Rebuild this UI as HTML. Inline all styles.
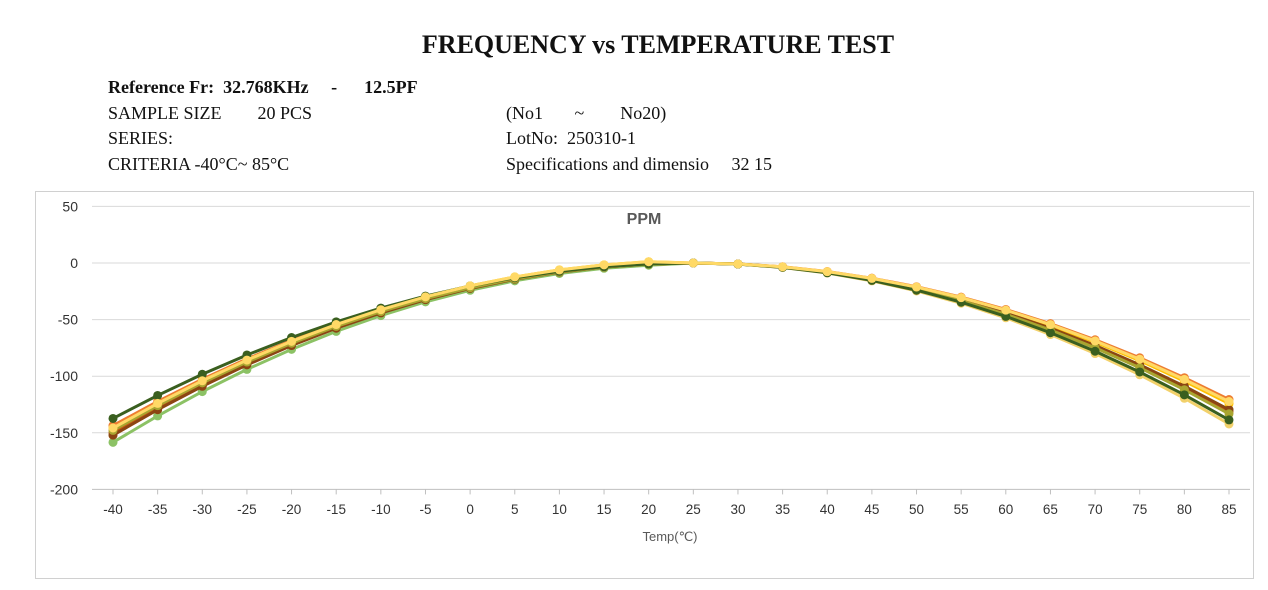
<!DOCTYPE html>
<html><head><meta charset="utf-8"><style>
body{margin:0;width:1268px;height:590px;background:#fff;overflow:hidden;position:relative;font-family:"Liberation Serif",serif;}
.t{position:absolute;font-size:18px;line-height:20px;height:20px;color:#111;white-space:pre;}
</style></head><body>
<div class="t" style="left:0;width:1316px;text-align:center;top:32px;font-size:26px;line-height:26px;font-weight:bold;">FREQUENCY vs TEMPERATURE TEST</div>
<div class="t" style="left:108px;top:77px;font-weight:bold;">Reference Fr:  32.768KHz     -      12.5PF</div>
<div class="t" style="left:108px;top:103px;">SAMPLE SIZE        20 PCS</div>
<div class="t" style="left:108px;top:128px;">SERIES:</div>
<div class="t" style="left:108px;top:154px;">CRITERIA -40°C~ 85°C</div>
<div class="t" style="left:506px;top:103px;">(No1       ~        No20)</div>
<div class="t" style="left:506px;top:128px;">LotNo:  250310-1</div>
<div class="t" style="left:506px;top:154px;">Specifications and dimensio     32 15</div>
<svg id="s" width="1268" height="590" style="position:absolute;left:0;top:0"></svg>
<script>
var s='';
s+='<rect x="35.5" y="191.5" width="1218" height="387" fill="none" stroke="#d0d0d0"/>';
function X(t){return 113+(t+40)*(1116/125);}
function Y(v){return 263-v*1.132;}
var yl=[50,0,-50,-100,-150,-200];
yl.forEach(function(v){var y=Y(v);
 s+='<line x1="92" x2="1250" y1="'+y+'" y2="'+y+'" stroke="'+(v>-200?'#d9d9d9':'#bfbfbf')+'"/>';
 s+='<text x="78" y="'+(y+5)+'" text-anchor="end" font-family="Liberation Sans,sans-serif" font-size="14" fill="#333">'+v+'</text>';});
for(var t=-40;t<=85;t+=5){var x=X(t);
 s+='<line x1="'+x+'" x2="'+x+'" y1="'+Y(-200)+'" y2="'+(Y(-200)+5)+'" stroke="#bfbfbf"/>';
 s+='<text x="'+x+'" y="514" text-anchor="middle" font-family="Liberation Sans,sans-serif" font-size="13.5" fill="#333">'+t+'</text>';}
s+='<text x="644" y="224" text-anchor="middle" font-family="Liberation Sans,sans-serif" font-weight="bold" font-size="16" fill="#595959">PPM</text>';
s+='<text x="670" y="541" text-anchor="middle" font-family="Liberation Sans,sans-serif" font-size="13" fill="#595959">Temp(℃)</text>';
var ser=[
 ['#8cc265',0.0375,0.036,-1],['#f2d16b',0.036,0.0395,1],['#ffc000',0.0345,0.0345,2],['#c55a11',0.0355,0.0365,0],
 ['#8b4513',0.036,0.036,0],['#ed7d31',0.034,0.0335,1],['#a9a530',0.035,0.037,0],['#3a5f1f',0.0325,0.0385,0],['#ffd966',0.0345,0.034,2]];
ser.forEach(function(a){var p=[];for(var t=-40;t<=85;t+=5){var k=t<25?a[1]:a[2];var v=-k*(t-25)*(t-25)+(t<25?a[3]*(1-Math.abs(t-20)/60):0);p.push([X(t),Y(v)]);}
 s+='<polyline points="'+p.map(function(q){return q.join(',')}).join(' ')+'" fill="none" stroke="'+a[0]+'" stroke-width="3"/>';
 p.forEach(function(q){s+='<circle cx="'+q[0]+'" cy="'+q[1]+'" r="4.5" fill="'+a[0]+'"/>';});});
document.getElementById('s').innerHTML=s;
</script>
</body></html>
